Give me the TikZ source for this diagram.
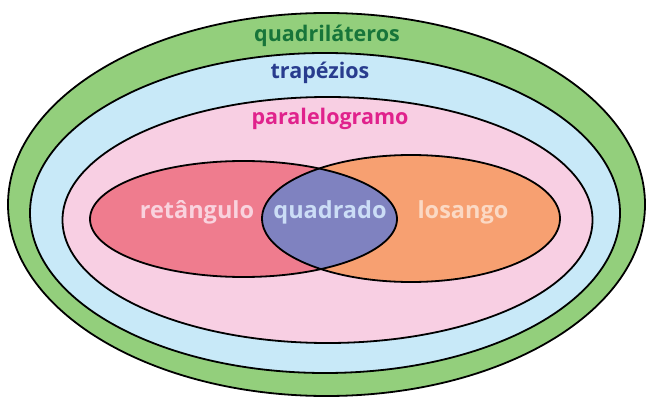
\documentclass[tikz,border=0pt]{standalone}
\usepackage{fontspec}
\setmainfont{Open Sans}
\definecolor{cgreen}{HTML}{93CF7C}
\definecolor{cblue}{HTML}{C8E9F8}
\definecolor{cpink}{HTML}{F8CFE3}
\definecolor{cred}{HTML}{EF7C8E}
\definecolor{corange}{HTML}{F7A071}
\definecolor{cpurple}{HTML}{7F82C0}
\definecolor{tgreen}{HTML}{17753A}
\definecolor{tblue}{HTML}{283C8E}
\definecolor{tmag}{HTML}{E0228C}
\definecolor{tred}{HTML}{F9D3DE}
\definecolor{tpur}{HTML}{CBDDF6}
\definecolor{torange}{HTML}{FBD9C4}
\tikzset{
  ring/.style={draw=black, line width=1.8pt},
  toplabel/.style={font=\bfseries\fontsize{21.5}{24}\selectfont, inner sep=0pt},
  innerlabel/.style={font=\bfseries\fontsize{23.5}{26}\selectfont, inner sep=0pt}
}
\begin{document}
\begin{tikzpicture}[x=1pt,y=-1pt]
\useasboundingbox (0,0) rectangle (650,406);
\fill[white] (0,0) rectangle (650,406);
\filldraw[ring, fill=cgreen] (326.5,204.5) ellipse [x radius=318.5, y radius=191.5];
\filldraw[ring, fill=cblue] (325,213) ellipse [x radius=295, y radius=160];
\filldraw[ring, fill=cpink] (327.5,220) ellipse [x radius=265, y radius=123];
\fill[cred] (243.5,219) ellipse [x radius=153.5, y radius=58];
\fill[corange] (411,218.5) ellipse [x radius=149, y radius=63.5];
\begin{scope}
  \clip (243.5,219) ellipse [x radius=153.5, y radius=58];
  \fill[cpurple] (411,218.5) ellipse [x radius=149, y radius=63.5];
\end{scope}
\draw[ring] (243.5,219) ellipse [x radius=153.5, y radius=58];
\draw[ring] (411,218.5) ellipse [x radius=149, y radius=63.5];
\node[toplabel, text=tgreen] (quad) at (327,36) {quadriláteros};
\node[toplabel, text=tblue] (trap) at (320,73) {trapézios};
\node[toplabel, text=tmag] (para) at (330,119) {paralelogramo};
\node[innerlabel, text=tred] (ret) at (197,212) {retângulo};
\node[innerlabel, text=tpur] (qd) at (330,212) {quadrado};
\node[innerlabel, text=torange] (los) at (463,212) {losango};
\end{tikzpicture}
\end{document}
